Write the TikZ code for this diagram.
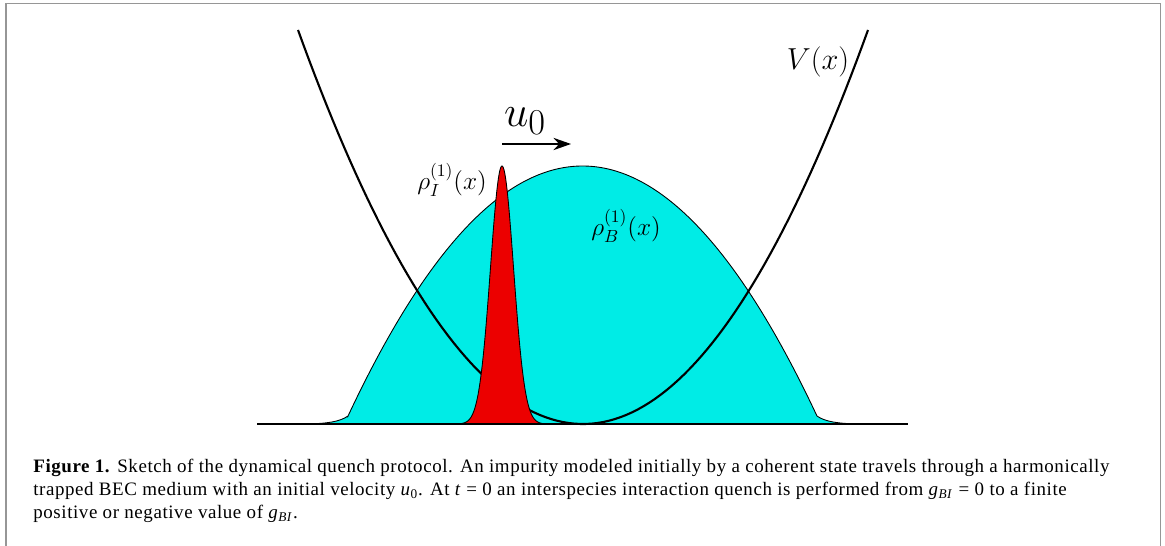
\documentclass[tikz,border=0pt]{standalone}
\usepackage{fontspec}
\newfontfamily\capfont[LetterSpace=3]{Liberation Serif}
\usetikzlibrary{arrows.meta}
\definecolor{becCyan}{RGB}{0,236,230}
\definecolor{impRed}{RGB}{236,0,0}
\definecolor{frameGray}{RGB}{150,150,150}

\begin{document}
\begin{tikzpicture}[x=0.02cm, y=-0.02cm, >={Stealth[length=10pt, width=7pt]},
    dens/.style={draw=black, line width=0.5pt},
    lbl/.style={inner sep=0pt},
    capline/.style={anchor=base west, inner sep=0pt, font=\capfont\fontsize{10.8}{12.9}\selectfont}]
    \useasboundingbox (0,0) rectangle (1165,546);
    % frame
    \draw[frameGray, line width=1.1pt] (6,546) -- (6,3.5) -- (1160.5,3.5) -- (1160.5,546);

    % BEC density: Thomas-Fermi part with tails
    \filldraw[dens, fill=becCyan] (300,424) .. controls (328,424) and (340,421.5) .. (348,416)
        -- plot[domain=348:817, samples=120] (\x, {424 - 258*(1 - ((\x-582.5)/238.2)*((\x-582.5)/238.2))})
        .. controls (825,421.5) and (837,424) .. (865,424);

    % trap V(x)
    \draw[line width=1.2pt, samples=100, domain=298:868]
        plot (\x, {424 - 394*((\x-583)/285)*((\x-583)/285)});

    % impurity density
    \filldraw[dens, fill=impRed, samples=100, domain=462:542]
        plot (\x, {424 - 258*exp(-0.5*((\x-502)/11.5)*((\x-502)/11.5))});

    % axis line
    \draw[line width=0.8pt] (257,424) -- (908,424);

    % labels
    \node[lbl] (rhoI) at (452,180) {\Large $\rho_I^{(1)}(x)$};
    \node[lbl] (rhoB) at (626,226) {\Large $\rho_B^{(1)}(x)$};
    \node[lbl] (Vx) at (818,62) {\LARGE $V(x)$};
    \node[lbl] (u0) at (525,121) {\Huge $u_0$};
    \coordinate (uA) at (502,144);
    \coordinate (uB) at (571,144);
    \draw[->, line width=1.1pt] (uA) -- (uB);

    % caption
    \node[capline] (cap1) at (33,473) {\textbf{Figure 1.} Sketch of the dynamical quench protocol. An impurity modeled initially by a coherent state travels through a harmonically};
    \node[capline] (cap2) at (33,496) {trapped BEC medium with an initial velocity \textit{u}\textsubscript{0}. At \textit{t}~=~0 an interspecies interaction quench is performed from \textit{g}\textsubscript{\textit{BI}}~=~0 to a finite};
    \node[capline] (cap3) at (33,519) {positive or negative value of \textit{g}\textsubscript{\textit{BI}}.};
\end{tikzpicture}
\end{document}
